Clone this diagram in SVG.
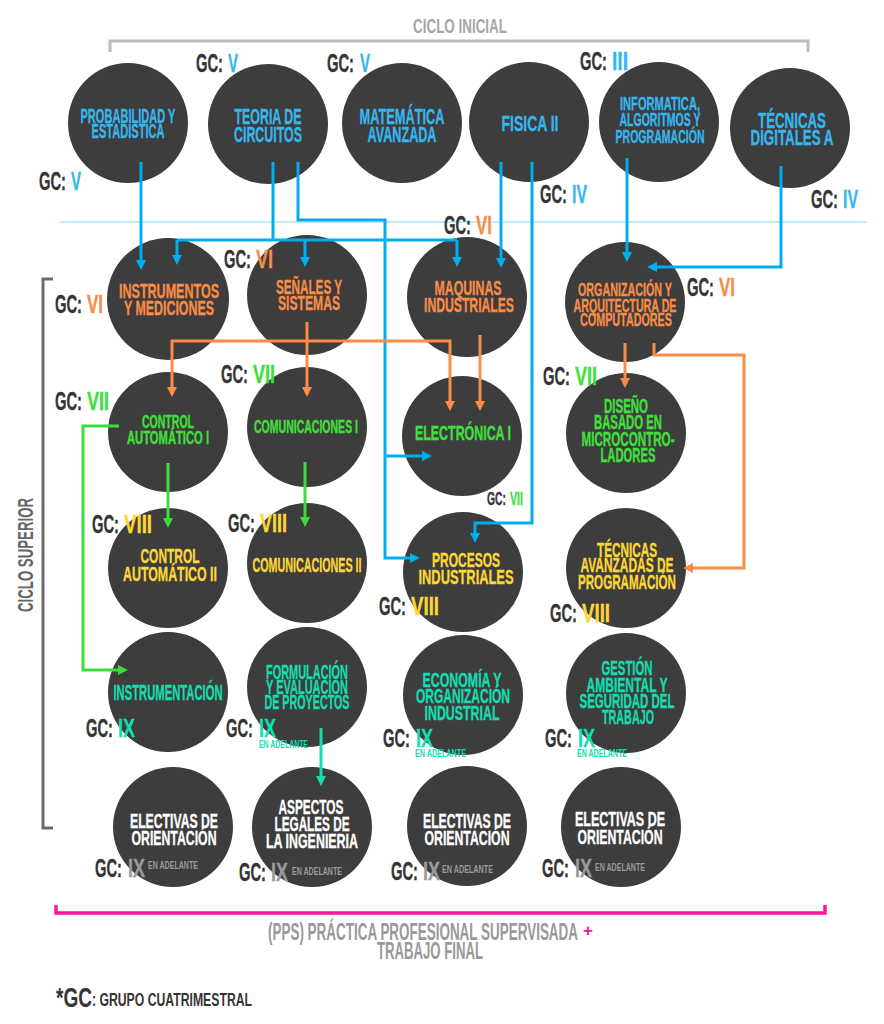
<svg xmlns="http://www.w3.org/2000/svg" width="884" height="1024" viewBox="0 0 884 1024">
<style>
text{font-family:"Liberation Sans",Arial,sans-serif;font-weight:bold}
.m{text-anchor:middle}
.c{fill:#3d3d3d}
.b{fill:#35b7ee;stroke:#35b7ee}.o{fill:#f98c46;stroke:#f98c46}.g{fill:#40e03c;stroke:#40e03c}.y{fill:#fdd835;stroke:#fdd835}.t{fill:#14deb0;stroke:#14deb0}.w{fill:#ffffff;stroke:#ffffff}.x{fill:#9a9a9a;stroke:#9a9a9a}
.m,.n,.gc{stroke-width:0.35}
.gc{fill:#353535;stroke:#353535}
.gc,.n{font-size:25px}
.s{font-size:18px}
.ea{font-size:11px;stroke-width:0}
.ln{fill:none;stroke-width:3;stroke-linejoin:miter}
.lb{stroke:#00aeef}.lo{stroke:#f98c46}.lg{stroke:#3ddc3d}.lt{stroke:#14deb0}
</style>
<defs>
<marker id="ab" viewBox="0 0 10 10" refX="6" refY="5" markerWidth="10" markerHeight="10" markerUnits="userSpaceOnUse" orient="auto"><path d="M0,0 L10,5 L0,10 Z" fill="#00aeef"/></marker>
<marker id="ao" viewBox="0 0 10 10" refX="6" refY="5" markerWidth="10" markerHeight="10" markerUnits="userSpaceOnUse" orient="auto"><path d="M0,0 L10,5 L0,10 Z" fill="#f98c46"/></marker>
<marker id="ag" viewBox="0 0 10 10" refX="6" refY="5" markerWidth="10" markerHeight="10" markerUnits="userSpaceOnUse" orient="auto"><path d="M0,0 L10,5 L0,10 Z" fill="#3ddc3d"/></marker>
<marker id="at" viewBox="0 0 10 10" refX="6" refY="5" markerWidth="10" markerHeight="10" markerUnits="userSpaceOnUse" orient="auto"><path d="M0,0 L10,5 L0,10 Z" fill="#14deb0"/></marker>
</defs>
<rect width="884" height="1024" fill="#ffffff"/>

<g id="frames">
<text x="460" y="33" text-anchor="middle" font-size="21" fill="#a6a6a6" textLength="94" lengthAdjust="spacingAndGlyphs">CICLO INICIAL</text>
<path d="M110,52 V41 H808 V52" fill="none" stroke="#bcbcbc" stroke-width="3"/>
<path d="M60,222 H867" stroke="#aee4f8" stroke-width="1.5"/>
<path d="M53,279 H43 V828 H53" fill="none" stroke="#6b6b6b" stroke-width="3"/>
<text transform="translate(33,555) rotate(-90)" text-anchor="middle" font-size="22" fill="#666666" textLength="114" lengthAdjust="spacingAndGlyphs">CICLO SUPERIOR</text>
<path d="M56,905 V913 H825 V905" fill="none" stroke="#ff149a" stroke-width="3.5"/>
<text x="268" y="940" font-size="23" fill="#999999" textLength="310" lengthAdjust="spacingAndGlyphs">(PPS) PRÁCTICA PROFESIONAL SUPERVISADA</text>
<text x="583" y="936" font-size="17" fill="#ff149a">+</text>
<text x="430" y="959" text-anchor="middle" font-size="23" fill="#999999" textLength="106" lengthAdjust="spacingAndGlyphs">TRABAJO FINAL</text>
<text x="56" y="1007" font-size="28" fill="#353535" textLength="36" lengthAdjust="spacingAndGlyphs">*GC</text>
<text x="92" y="1006" font-size="19" fill="#353535" textLength="160" lengthAdjust="spacingAndGlyphs">: GRUPO CUATRIMESTRAL</text>
</g>

<g id="probabilidad">
<circle class="c" cx="128" cy="123" r="60"/>
<text class="m b" font-size="19.5" x="128" y="123" textLength="95" lengthAdjust="spacingAndGlyphs">PROBABILIDAD Y</text>
<text class="m b" font-size="19.5" x="128" y="138" textLength="73" lengthAdjust="spacingAndGlyphs">ESTADISTICA</text>
<text class="gc" x="39" y="190" textLength="27" lengthAdjust="spacingAndGlyphs">GC:</text>
<text class="n b" x="71" y="190" textLength="10" lengthAdjust="spacingAndGlyphs">V</text>
</g>
<g id="teoria">
<circle class="c" cx="268" cy="124" r="60"/>
<text class="m b" font-size="22" x="268" y="124" textLength="67" lengthAdjust="spacingAndGlyphs">TEORIA DE</text>
<text class="m b" font-size="22" x="268" y="142" textLength="68" lengthAdjust="spacingAndGlyphs">CIRCUITOS</text>
<text class="gc" x="196" y="72" textLength="27" lengthAdjust="spacingAndGlyphs">GC:</text>
<text class="n b" x="228" y="72" textLength="10" lengthAdjust="spacingAndGlyphs">V</text>
</g>
<g id="matematica">
<circle class="c" cx="402" cy="123" r="60"/>
<text class="m b" font-size="22" x="402" y="124" textLength="85" lengthAdjust="spacingAndGlyphs">MATEMÁTICA</text>
<text class="m b" font-size="22" x="402" y="142" textLength="69" lengthAdjust="spacingAndGlyphs">AVANZADA</text>
<text class="gc" x="327" y="72" textLength="27" lengthAdjust="spacingAndGlyphs">GC:</text>
<text class="n b" x="360" y="72" textLength="10" lengthAdjust="spacingAndGlyphs">V</text>
</g>
<g id="fisica">
<circle class="c" cx="529" cy="122" r="60"/>
<text class="m b" font-size="22" x="530" y="131" textLength="57" lengthAdjust="spacingAndGlyphs">FISICA II</text>
<text class="gc" x="540" y="203" textLength="27" lengthAdjust="spacingAndGlyphs">GC:</text>
<text class="n b" x="572" y="203" textLength="15" lengthAdjust="spacingAndGlyphs">IV</text>
</g>
<g id="informatica">
<circle class="c" cx="659" cy="122" r="60"/>
<text class="m b" font-size="18" x="660" y="110" textLength="80" lengthAdjust="spacingAndGlyphs">INFORMATICA,</text>
<text class="m b" font-size="18" x="660" y="126" textLength="81" lengthAdjust="spacingAndGlyphs">ALGORITMOS Y</text>
<text class="m b" font-size="18" x="660" y="143" textLength="89" lengthAdjust="spacingAndGlyphs">PROGRAMACIÓN</text>
<text class="gc" x="580" y="70" textLength="27" lengthAdjust="spacingAndGlyphs">GC:</text>
<text class="n b" x="612" y="70" textLength="16" lengthAdjust="spacingAndGlyphs">III</text>
</g>
<g id="tecnicas-digitales">
<circle class="c" cx="790" cy="128" r="60"/>
<text class="m b" font-size="22" x="792" y="128" textLength="68" lengthAdjust="spacingAndGlyphs">TÉCNICAS</text>
<text class="m b" font-size="22" x="792" y="145" textLength="83" lengthAdjust="spacingAndGlyphs">DIGITALES A</text>
<text class="gc" x="811" y="208" textLength="27" lengthAdjust="spacingAndGlyphs">GC:</text>
<text class="n b" x="843" y="208" textLength="15" lengthAdjust="spacingAndGlyphs">IV</text>
</g>

<g id="instrumentos">
<circle class="c" cx="168" cy="299" r="61"/>
<text class="m o" font-size="21" x="169" y="298" textLength="100" lengthAdjust="spacingAndGlyphs">INSTRUMENTOS</text>
<text class="m o" font-size="21" x="169" y="315" textLength="90" lengthAdjust="spacingAndGlyphs">Y MEDICIONES</text>
<text class="gc" x="55" y="313" textLength="27" lengthAdjust="spacingAndGlyphs">GC:</text>
<text class="n o" x="87" y="313" textLength="16" lengthAdjust="spacingAndGlyphs">VI</text>
</g>
<g id="senales">
<circle class="c" cx="307" cy="295" r="60"/>
<text class="m o" font-size="21" x="309" y="294" textLength="66" lengthAdjust="spacingAndGlyphs">SEÑALES Y</text>
<text class="m o" font-size="21" x="309" y="310" textLength="62" lengthAdjust="spacingAndGlyphs">SISTEMAS</text>
<text class="gc" x="224" y="268" textLength="27" lengthAdjust="spacingAndGlyphs">GC:</text>
<text class="n o" x="256" y="268" textLength="17" lengthAdjust="spacingAndGlyphs">VI</text>
</g>
<g id="maquinas">
<circle class="c" cx="467" cy="297" r="60"/>
<text class="m o" font-size="21" x="468" y="295" textLength="67" lengthAdjust="spacingAndGlyphs">MAQUINAS</text>
<text class="m o" font-size="21" x="469" y="312" textLength="90" lengthAdjust="spacingAndGlyphs">INDUSTRIALES</text>
<text class="gc" x="444" y="234" textLength="27" lengthAdjust="spacingAndGlyphs">GC:</text>
<text class="n o" x="476" y="234" textLength="16" lengthAdjust="spacingAndGlyphs">VI</text>
</g>
<g id="organizacion">
<circle class="c" cx="625" cy="302" r="60"/>
<text class="m o" font-size="19" x="625" y="296" textLength="94" lengthAdjust="spacingAndGlyphs">ORGANIZACIÓN Y</text>
<text class="m o" font-size="19" x="625" y="312" textLength="103" lengthAdjust="spacingAndGlyphs">ARQUITECTURA DE</text>
<text class="m o" font-size="19" x="626" y="326" textLength="92" lengthAdjust="spacingAndGlyphs">COMPUTADORES</text>
<text class="gc" x="687" y="296" textLength="27" lengthAdjust="spacingAndGlyphs">GC:</text>
<text class="n o" x="719" y="296" textLength="16" lengthAdjust="spacingAndGlyphs">VI</text>
</g>

<g id="control1">
<circle class="c" cx="168" cy="432" r="60"/>
<text class="m g" font-size="18" x="168" y="428" textLength="52" lengthAdjust="spacingAndGlyphs">CONTROL</text>
<text class="m g" font-size="18" x="168" y="444" textLength="82" lengthAdjust="spacingAndGlyphs">AUTOMÁTICO I</text>
<text class="gc" x="55" y="410" textLength="27" lengthAdjust="spacingAndGlyphs">GC:</text>
<text class="n g" x="87" y="410" textLength="22" lengthAdjust="spacingAndGlyphs">VII</text>
</g>
<g id="comunicaciones1">
<circle class="c" cx="307" cy="427" r="60"/>
<text class="m g" font-size="18" x="306" y="433" textLength="104" lengthAdjust="spacingAndGlyphs">COMUNICACIONES I</text>
<text class="gc" x="221" y="383" textLength="27" lengthAdjust="spacingAndGlyphs">GC:</text>
<text class="n g" x="253" y="383" textLength="22" lengthAdjust="spacingAndGlyphs">VII</text>
</g>
<g id="electronica1">
<circle class="c" cx="462" cy="436" r="60"/>
<text class="m g" font-size="21" x="463" y="440" textLength="96" lengthAdjust="spacingAndGlyphs">ELECTRÓNICA I</text>
<text class="gc s" x="487" y="505" textLength="19" lengthAdjust="spacingAndGlyphs">GC:</text>
<text class="n g s" x="510" y="505" textLength="13" lengthAdjust="spacingAndGlyphs">VII</text>
</g>
<g id="diseno">
<circle class="c" cx="626" cy="433" r="60"/>
<text class="m g" font-size="21" x="626" y="413" textLength="44" lengthAdjust="spacingAndGlyphs">DISEÑO</text>
<text class="m g" font-size="21" x="628" y="429" textLength="68" lengthAdjust="spacingAndGlyphs">BASADO EN</text>
<text class="m g" font-size="21" x="628" y="446" textLength="93" lengthAdjust="spacingAndGlyphs">MICROCONTRO-</text>
<text class="m g" font-size="21" x="628" y="462" textLength="55" lengthAdjust="spacingAndGlyphs">LADORES</text>
<text class="gc" x="543" y="385" textLength="27" lengthAdjust="spacingAndGlyphs">GC:</text>
<text class="n g" x="575" y="385" textLength="22" lengthAdjust="spacingAndGlyphs">VII</text>
</g>

<g id="control2">
<circle class="c" cx="168" cy="568" r="60"/>
<text class="m y" font-size="21" x="170" y="563" textLength="59" lengthAdjust="spacingAndGlyphs">CONTROL</text>
<text class="m y" font-size="21" x="170" y="581" textLength="94" lengthAdjust="spacingAndGlyphs">AUTOMÁTICO II</text>
<text class="gc" x="92" y="533" textLength="27" lengthAdjust="spacingAndGlyphs">GC:</text>
<text class="n y" x="124" y="533" textLength="28" lengthAdjust="spacingAndGlyphs">VIII</text>
</g>
<g id="comunicaciones2">
<circle class="c" cx="307" cy="563" r="60"/>
<text class="m y" font-size="20" x="307" y="572" textLength="109" lengthAdjust="spacingAndGlyphs">COMUNICACIONES II</text>
<text class="gc" x="228" y="532" textLength="27" lengthAdjust="spacingAndGlyphs">GC:</text>
<text class="n y" x="260" y="532" textLength="27" lengthAdjust="spacingAndGlyphs">VIII</text>
</g>
<g id="procesos">
<circle class="c" cx="463" cy="572" r="60"/>
<text class="m y" font-size="21" x="466" y="567" textLength="68" lengthAdjust="spacingAndGlyphs">PROCESOS</text>
<text class="m y" font-size="21" x="466" y="584" textLength="95" lengthAdjust="spacingAndGlyphs">INDUSTRIALES</text>
<text class="gc" x="379" y="615" textLength="27" lengthAdjust="spacingAndGlyphs">GC:</text>
<text class="n y" x="411" y="615" textLength="28" lengthAdjust="spacingAndGlyphs">VIII</text>
</g>
<g id="tecnicas-avanzadas">
<circle class="c" cx="626" cy="568" r="60"/>
<text class="m y" font-size="20" x="627" y="557" textLength="60" lengthAdjust="spacingAndGlyphs">TÉCNICAS</text>
<text class="m y" font-size="20" x="627" y="572" textLength="93" lengthAdjust="spacingAndGlyphs">AVANZADAS DE</text>
<text class="m y" font-size="20" x="627" y="589" textLength="98" lengthAdjust="spacingAndGlyphs">PROGRAMACIÓN</text>
<text class="gc" x="550" y="622" textLength="27" lengthAdjust="spacingAndGlyphs">GC:</text>
<text class="n y" x="582" y="622" textLength="28" lengthAdjust="spacingAndGlyphs">VIII</text>
</g>

<g id="instrumentacion">
<circle class="c" cx="168" cy="692" r="60"/>
<text class="m t" font-size="22" x="168" y="700" textLength="109" lengthAdjust="spacingAndGlyphs">INSTRUMENTACIÓN</text>
<text class="gc" x="86" y="737" textLength="27" lengthAdjust="spacingAndGlyphs">GC:</text>
<text class="n t" x="118" y="737" textLength="17" lengthAdjust="spacingAndGlyphs">IX</text>
</g>
<g id="formulacion">
<circle class="c" cx="307" cy="687" r="60"/>
<text class="m t" font-size="21" x="307" y="679" textLength="82" lengthAdjust="spacingAndGlyphs">FORMULACIÓN</text>
<text class="m t" font-size="21" x="307" y="694" textLength="82" lengthAdjust="spacingAndGlyphs">Y EVALUACIÓN</text>
<text class="m t" font-size="21" x="307" y="709" textLength="85" lengthAdjust="spacingAndGlyphs">DE PROYECTOS</text>
<text class="gc" x="226" y="737" textLength="27" lengthAdjust="spacingAndGlyphs">GC:</text>
<text class="n t" x="259" y="737" textLength="17" lengthAdjust="spacingAndGlyphs">IX</text>
<text class="t ea" x="259" y="748" textLength="49" lengthAdjust="spacingAndGlyphs">EN ADELANTE</text>
</g>
<g id="economia">
<circle class="c" cx="463" cy="695" r="60"/>
<text class="m t" font-size="21" x="462" y="687" textLength="79" lengthAdjust="spacingAndGlyphs">ECONOMÍA Y</text>
<text class="m t" font-size="21" x="463" y="703" textLength="94" lengthAdjust="spacingAndGlyphs">ORGANIZACIÓN</text>
<text class="m t" font-size="21" x="462" y="720" textLength="75" lengthAdjust="spacingAndGlyphs">INDUSTRIAL</text>
<text class="gc" x="383" y="747" textLength="27" lengthAdjust="spacingAndGlyphs">GC:</text>
<text class="n t" x="416" y="747" textLength="17" lengthAdjust="spacingAndGlyphs">IX</text>
<text class="t ea" x="415" y="757" textLength="51" lengthAdjust="spacingAndGlyphs">EN ADELANTE</text>
</g>
<g id="gestion">
<circle class="c" cx="626" cy="693" r="60"/>
<text class="m t" font-size="20" x="627" y="675" textLength="51" lengthAdjust="spacingAndGlyphs">GESTIÓN</text>
<text class="m t" font-size="20" x="627" y="692" textLength="81" lengthAdjust="spacingAndGlyphs">AMBIENTAL Y</text>
<text class="m t" font-size="20" x="627" y="708" textLength="95" lengthAdjust="spacingAndGlyphs">SEGURIDAD DEL</text>
<text class="m t" font-size="20" x="628" y="724" textLength="52" lengthAdjust="spacingAndGlyphs">TRABAJO</text>
<text class="gc" x="545" y="747" textLength="27" lengthAdjust="spacingAndGlyphs">GC:</text>
<text class="n t" x="578" y="747" textLength="17" lengthAdjust="spacingAndGlyphs">IX</text>
<text class="t ea" x="577" y="757" textLength="50" lengthAdjust="spacingAndGlyphs">EN ADELANTE</text>
</g>

<g id="electivas1">
<circle class="c" cx="173" cy="827" r="60"/>
<text class="m w" font-size="21" x="174" y="828" textLength="88" lengthAdjust="spacingAndGlyphs">ELECTIVAS DE</text>
<text class="m w" font-size="21" x="174" y="845" textLength="85" lengthAdjust="spacingAndGlyphs">ORIENTACIÓN</text>
<text class="gc" x="95" y="877" textLength="27" lengthAdjust="spacingAndGlyphs">GC:</text>
<text class="n x" x="128" y="877" textLength="17" lengthAdjust="spacingAndGlyphs">IX</text>
<text class="x ea" font-size="12" x="148" y="869" textLength="50" lengthAdjust="spacingAndGlyphs">EN ADELANTE</text>
</g>
<g id="aspectos">
<circle class="c" cx="312" cy="827" r="60"/>
<text class="m w" font-size="20" x="311" y="814" textLength="65" lengthAdjust="spacingAndGlyphs">ASPECTOS</text>
<text class="m w" font-size="20" x="312" y="831" textLength="75" lengthAdjust="spacingAndGlyphs">LEGALES DE</text>
<text class="m w" font-size="20" x="312" y="848" textLength="92" lengthAdjust="spacingAndGlyphs">LA INGENIERIA</text>
<text class="gc" x="239" y="881" textLength="27" lengthAdjust="spacingAndGlyphs">GC:</text>
<text class="n x" x="271" y="881" textLength="17" lengthAdjust="spacingAndGlyphs">IX</text>
<text class="x ea" font-size="12" x="292" y="875" textLength="50" lengthAdjust="spacingAndGlyphs">EN ADELANTE</text>
</g>
<g id="electivas3">
<circle class="c" cx="467" cy="826" r="60"/>
<text class="m w" font-size="21" x="467" y="828" textLength="88" lengthAdjust="spacingAndGlyphs">ELECTIVAS DE</text>
<text class="m w" font-size="21" x="467" y="845" textLength="85" lengthAdjust="spacingAndGlyphs">ORIENTACIÓN</text>
<text class="gc" x="391" y="880" textLength="27" lengthAdjust="spacingAndGlyphs">GC:</text>
<text class="n x" x="423" y="880" textLength="17" lengthAdjust="spacingAndGlyphs">IX</text>
<text class="x ea" font-size="12" x="442" y="873" textLength="51" lengthAdjust="spacingAndGlyphs">EN ADELANTE</text>
</g>
<g id="electivas4">
<circle class="c" cx="621" cy="827" r="60"/>
<text class="m w" font-size="21" x="620" y="826" textLength="90" lengthAdjust="spacingAndGlyphs">ELECTIVAS DE</text>
<text class="m w" font-size="21" x="620" y="844" textLength="85" lengthAdjust="spacingAndGlyphs">ORIENTACIÓN</text>
<text class="gc" x="542" y="877" textLength="27" lengthAdjust="spacingAndGlyphs">GC:</text>
<text class="n x" x="575" y="877" textLength="17" lengthAdjust="spacingAndGlyphs">IX</text>
<text class="x ea" font-size="12" x="595" y="871" textLength="50" lengthAdjust="spacingAndGlyphs">EN ADELANTE</text>
</g>

<g id="connectors">
<path class="ln lb" d="M141,162 V266" marker-end="url(#ab)"/>
<path class="ln lb" d="M273,162 V240"/>
<path class="ln lb" d="M177,240 H457"/>
<path class="ln lb" d="M177,240 V261" marker-end="url(#ab)"/>
<path class="ln lb" d="M305,240 V263" marker-end="url(#ab)"/>
<path class="ln lb" d="M457,240 V263" marker-end="url(#ab)"/>
<path class="ln lb" d="M298,162 V220 H385 V558 H416" marker-end="url(#ab)"/>
<path class="ln lb" d="M385,456 H428" marker-end="url(#ab)"/>
<path class="ln lb" d="M501,162 V264" marker-end="url(#ab)"/>
<path class="ln lb" d="M532,162 V523 H475 V539" marker-end="url(#ab)"/>
<path class="ln lb" d="M627,158 V258" marker-end="url(#ab)"/>
<path class="ln lb" d="M781,166 V267 H651" marker-end="url(#ab)"/>
<path class="ln lo" d="M307,322 V393" marker-end="url(#ao)"/>
<path class="ln lo" d="M307,341 H172 V393" marker-end="url(#ao)"/>
<path class="ln lo" d="M307,341 H450 V407" marker-end="url(#ao)"/>
<path class="ln lo" d="M480,335 V407" marker-end="url(#ao)"/>
<path class="ln lo" d="M625,343 V384" marker-end="url(#ao)"/>
<path class="ln lo" d="M654,343 V355 H744 V568 H687" marker-end="url(#ao)"/>
<path class="ln lg" d="M119,426 H83 V670 H124" marker-end="url(#ag)"/>
<path class="ln lg" d="M168,463 V524" marker-end="url(#ag)"/>
<path class="ln lg" d="M305,462 V523" marker-end="url(#ag)"/>
<path class="ln lt" d="M321,728 V782" marker-end="url(#at)"/>
</g>
</svg>
